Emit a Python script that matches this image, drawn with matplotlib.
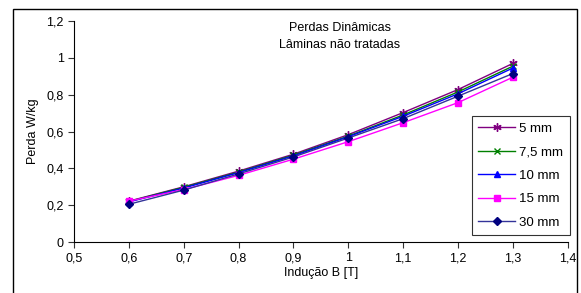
import matplotlib.pyplot as plt
from matplotlib.patches import Rectangle
from matplotlib.ticker import FuncFormatter

plt.rcParams['font.family'] = ['Liberation Sans', 'DejaVu Sans']

inducao = [0.6, 0.7, 0.8, 0.9, 1.0, 1.1, 1.2, 1.3]
p5 = [0.222, 0.300, 0.385, 0.477, 0.583, 0.703, 0.828, 0.970]
p75 = [0.220, 0.297, 0.380, 0.472, 0.575, 0.690, 0.815, 0.955]
p10 = [0.218, 0.293, 0.377, 0.468, 0.572, 0.683, 0.805, 0.945]
p15 = [0.222, 0.285, 0.362, 0.450, 0.545, 0.648, 0.757, 0.895]
p30 = [0.205, 0.282, 0.370, 0.462, 0.565, 0.670, 0.792, 0.915]
nomes = ['5 mm', '7,5 mm', '10 mm', '15 mm', '30 mm']

fig = plt.figure(figsize=(5.81, 2.93), dpi=100)
ax = fig.add_axes([0.1274, 0.174, 0.8496, 0.754])

ax.plot(inducao, p5, color='#800080', marker=(6, 2, 0), ms=6, mew=1, lw=1, label=nomes[0])
ax.plot(inducao, p75, color='#008000', marker='x', ms=5, mew=1, lw=1, label=nomes[1])
ax.plot(inducao, p10, color='#0000ff', marker='^', ms=5, lw=1, label=nomes[2])
ax.plot(inducao, p15, color='#ff00ff', marker='s', ms=5, lw=1, label=nomes[3])
ax.plot(inducao, p30, color='#333399', marker='D', ms=4.5, mfc='#000080', mec='#000080', lw=1, label=nomes[4])

ax.set_xlim(0.5, 1.4)
ax.set_ylim(0, 1.2)
ax.set_xticks([0.5 + 0.1 * i for i in range(10)])
ax.set_yticks([0.2 * i for i in range(7)])
fmt = FuncFormatter(lambda v, p: ('%g' % round(v, 2)).replace('.', ','))
ax.xaxis.set_major_formatter(fmt)
ax.yaxis.set_major_formatter(fmt)
ax.tick_params(direction='out', length=4, width=0.8, labelsize=9, color='#333333')
ax.spines['top'].set_visible(False)
ax.spines['right'].set_visible(False)
for s in ['left', 'bottom']:
    ax.spines[s].set_linewidth(0.8)

ax.set_xlabel('Indução B [T]', fontsize=9, labelpad=2)
ax.set_ylabel('Perda W/kg', fontsize=9, labelpad=5)

fig.text(0.585, 0.905, 'Perdas Dinâmicas', ha='center', va='center', fontsize=9)
fig.text(0.585, 0.845, 'Lâminas não tratadas', ha='center', va='center', fontsize=9)

leg = ax.legend(loc='lower right', bbox_to_anchor=(1.018, 0.0), fontsize=9.5,
                frameon=True, fancybox=False, edgecolor='black',
                borderpad=0.5, labelspacing=0.85, handlelength=2.8, handletextpad=0.3)
leg.get_frame().set_linewidth(0.8)

fig.patches.append(Rectangle((13 / 581, -0.1), 564 / 581, 1.1 - 9 / 293,
                             transform=fig.transFigure, fill=False,
                             edgecolor='black', lw=1))

fig.savefig('out.png', dpi=100)
